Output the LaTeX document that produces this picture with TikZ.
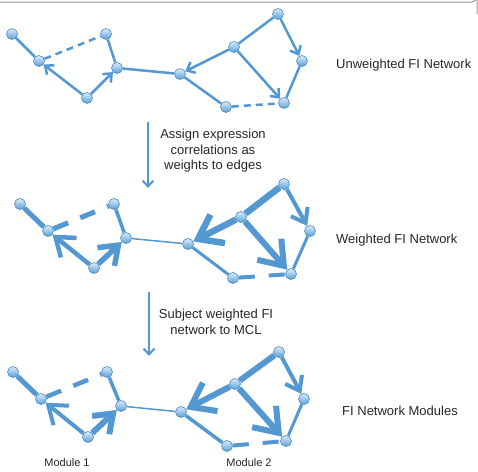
\documentclass[tikz,border=0pt]{standalone}
\usepackage{fontspec}
\setmainfont{Liberation Sans}
\usetikzlibrary{arrows.meta,backgrounds}
\definecolor{eb}{RGB}{84,152,210}
\definecolor{nlight}{RGB}{220,235,250}
\definecolor{ndark}{RGB}{88,158,215}
\definecolor{nedge}{RGB}{70,138,200}
\definecolor{frame}{RGB}{150,150,150}
\tikzset{
  vtx/.style={circle, minimum size=11pt, inner sep=0pt, top color=nlight, bottom color=ndark, draw=nedge, line width=0.6pt},
  ed/.style={draw=eb, line width=#1},
  dsh/.style={dash pattern=on #1},
  tipS/.style={-{Straight Barb[length=7pt,width=12pt]}},
  tipM/.style={-{Straight Barb[length=13pt,width=19pt]}},
  tipL/.style={-{Straight Barb[length=17pt,width=25pt]}},
  tipXL/.style={-{Straight Barb[length=22pt,width=32pt]}},
  lbl/.style={font=\fontsize{13pt}{15.5pt}\selectfont, text=black!85, align=center, inner sep=0pt},
  mlbl/.style={font=\fontsize{11pt}{13pt}\selectfont, text=black!85, inner sep=0pt},
  step arrow/.style={draw=eb, line width=2pt, -{Straight Barb[length=6pt,width=11pt]}}
}
\begin{document}
\begin{tikzpicture}[x=1pt,y=-1pt]
\useasboundingbox (0,0) rectangle (478,471);
% frame
\draw[frame, line width=1pt] (0,2) -- (471,2) arc[start angle=90, end angle=0, radius=6] -- (477,14);

% ---------- Network 1 ----------
\node[vtx] (A1) at (12,34) {};
\node[vtx] (B1) at (39,61) {};
\node[vtx] (C1) at (106,34) {};
\node[vtx] (D1) at (117,68) {};
\node[vtx] (E1) at (87,98) {};
\node[vtx] (F1) at (180,74) {};
\node[vtx] (G1) at (234,47) {};
\node[vtx] (H1) at (278,14) {};
\node[vtx] (I1) at (302,61) {};
\node[vtx] (J1) at (284,103) {};
\node[vtx] (K1) at (226,107) {};
\begin{pgfonlayer}{background}
\draw[ed=2.5pt] (A1) -- (B1);
\draw[ed=2.5pt, dsh=7pt off 5pt] (B1) -- (C1);
\draw[ed=2.5pt] (C1) -- (D1);
\draw[ed=2.5pt, tipS] (E1) -- (B1);
\draw[ed=2.5pt, tipS] (E1) -- (D1);
\draw[ed=2.5pt] (D1) -- (F1);
\draw[ed=2.5pt, tipS] (G1) -- (F1);
\draw[ed=2.5pt] (G1) -- (H1);
\draw[ed=2.5pt, tipS] (H1) -- (I1);
\draw[ed=2.5pt, tipS] (G1) -- (J1);
\draw[ed=2.5pt] (I1) -- (J1);
\draw[ed=2.5pt] (F1) -- (K1);
\draw[ed=2.5pt, dsh=7pt off 5pt] (K1) -- (J1);
\end{pgfonlayer}
\node[lbl, anchor=west] (L1) at (336,65) {Unweighted FI Network};

% step arrow 1
\coordinate (S1a) at (148,122);
\coordinate (S1b) at (148,188);
\draw[step arrow] (S1a) -- (S1b);
\node[lbl] (T1) at (213,151) {Assign expression\\correlations as\\weights to edges};

% ---------- Network 2 ----------
\node[vtx] (A2) at (20,204) {};
\node[vtx] (B2) at (48,231) {};
\node[vtx] (C2) at (114,204) {};
\node[vtx] (D2) at (126,238) {};
\node[vtx] (E2) at (94,268) {};
\node[vtx] (F2) at (188,244) {};
\node[vtx] (G2) at (241,217) {};
\node[vtx] (H2) at (284,184) {};
\node[vtx] (I2) at (310,231) {};
\node[vtx] (J2) at (291,274) {};
\node[vtx] (K2) at (233,278) {};
\begin{pgfonlayer}{background}
\draw[ed=5pt] (A2) -- (B2);
\draw[ed=5pt, dsh=16pt off 13pt] (B2) -- (C2);
\draw[ed=3.5pt] (C2) -- (D2);
\draw[ed=4.5pt, tipL] (E2) -- (B2);
\draw[ed=5.5pt, tipL] (E2) -- (D2);
\draw[ed=1.5pt] (D2) -- (F2);
\draw[ed=6.5pt, tipXL] (G2) -- (F2);
\draw[ed=6.5pt] (G2) -- (H2);
\draw[ed=4pt, tipM] (H2) -- (I2);
\draw[ed=6pt, tipXL] (G2) -- (J2);
\draw[ed=3pt] (I2) -- (J2);
\draw[ed=3pt] (F2) -- (K2);
\draw[ed=4pt, dsh=16pt off 14pt] (K2) -- (J2);
\end{pgfonlayer}
\node[lbl, anchor=west] (L2) at (336,240) {Weighted FI Network};

% step arrow 2
\coordinate (S2a) at (149,292);
\coordinate (S2b) at (149,356);
\draw[step arrow] (S2a) -- (S2b);
\node[lbl] (T2) at (216,322) {Subject weighted FI\\network to MCL};

% ---------- Network 3 ----------
\node[vtx] (A3) at (13,372) {};
\node[vtx] (B3) at (41,399) {};
\node[vtx] (C3) at (107,372) {};
\node[vtx] (D3) at (121,406) {};
\node[vtx] (E3) at (88,437) {};
\node[vtx] (F3) at (181,412) {};
\node[vtx] (G3) at (235,384) {};
\node[vtx] (H3) at (279,352) {};
\node[vtx] (I3) at (304,399) {};
\node[vtx] (J3) at (286,441) {};
\node[vtx] (K3) at (227,446) {};
\begin{pgfonlayer}{background}
\draw[ed=5pt] (A3) -- (B3);
\draw[ed=4.5pt, dsh=16pt off 13pt] (B3) -- (C3);
\draw[ed=3.5pt] (C3) -- (D3);
\draw[ed=4pt, tipL] (E3) -- (B3);
\draw[ed=6pt, tipL] (E3) -- (D3);
\draw[ed=1.5pt] (D3) -- (F3);
\draw[ed=6pt, tipXL] (G3) -- (F3);
\draw[ed=6pt] (G3) -- (H3);
\draw[ed=4pt, tipM] (H3) -- (I3);
\draw[ed=6pt, tipXL] (G3) -- (J3);
\draw[ed=3pt] (I3) -- (J3);
\draw[ed=3.5pt] (F3) -- (K3);
\draw[ed=4pt, dsh=16pt off 14pt] (K3) -- (J3);
\end{pgfonlayer}
\node[lbl, anchor=west] (L3) at (342,411) {FI Network Modules};
\node[mlbl] (M1) at (67,463) {Module 1};
\node[mlbl] (M2) at (249,463) {Module 2};
\end{tikzpicture}
\end{document}
